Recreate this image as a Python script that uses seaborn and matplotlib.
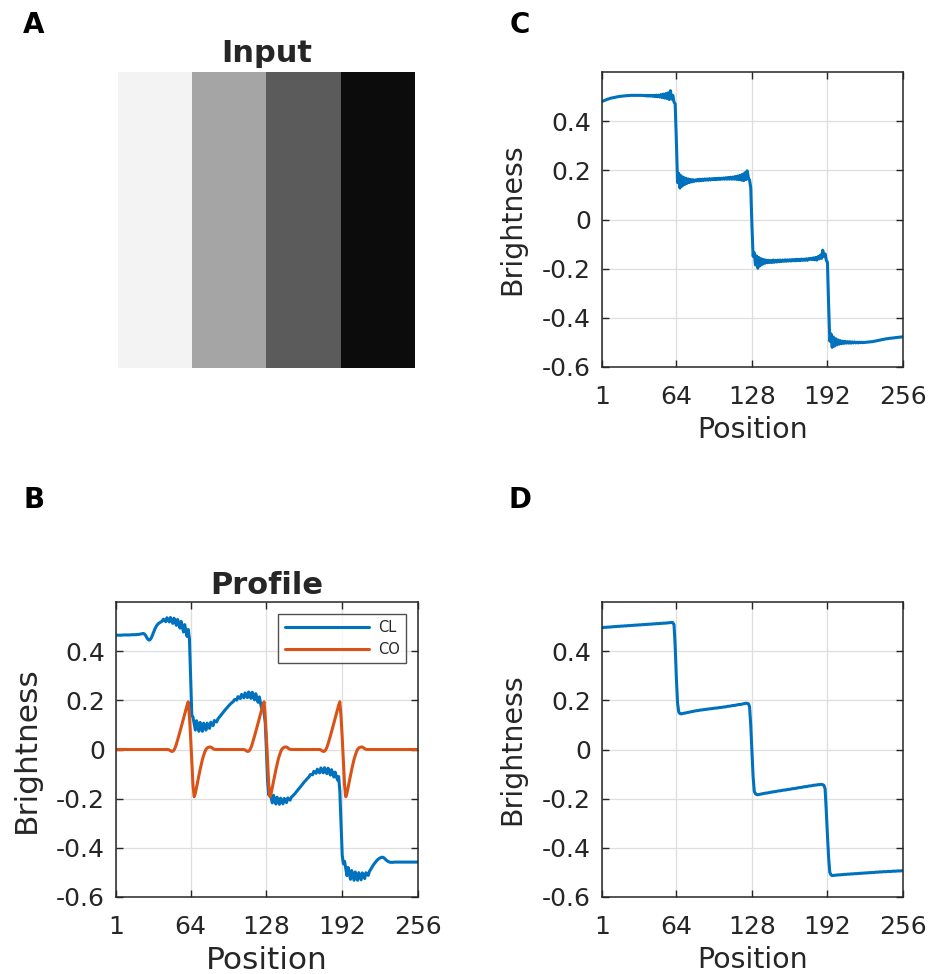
import numpy as np
import pandas as pd
import matplotlib
matplotlib.use("Agg")
import matplotlib.pyplot as plt
import seaborn as sns

# ---------------------------------------------------------------- data
positions = np.arange(1, 257)

# grey levels of the four vertical stripes of the input pattern
input_levels = [0.953, 0.647, 0.357, 0.047]

x_ticks = [1, 64, 128, 192, 256]
y_ticks = [-0.6, -0.4, -0.2, 0.0, 0.2, 0.4]
y_tick_labels = ["-0.6", "-0.4", "-0.2", "0", "0.2", "0.4"]

# Panel B: brightness profile along the row (CL) and the contrast signal (CO)
profile_cl = [
    0.465, 0.465, 0.465, 0.465, 0.465, 0.465, 0.466, 0.466, 0.466, 0.466, 0.466, 0.466, 0.466, 0.467, 0.467, 0.467,
    0.467, 0.467, 0.468, 0.468, 0.469, 0.470, 0.471, 0.472, 0.470, 0.464, 0.455, 0.448, 0.445, 0.448, 0.456, 0.468,
    0.480, 0.492, 0.501, 0.508, 0.513, 0.516, 0.519, 0.522, 0.530, 0.526, 0.520, 0.536, 0.528, 0.519, 0.537, 0.526,
    0.513, 0.534, 0.520, 0.505, 0.529, 0.512, 0.494, 0.521, 0.500, 0.478, 0.508, 0.485, 0.460, 0.488, 0.450, 0.300,
    0.140, 0.132, 0.105, 0.079, 0.117, 0.095, 0.074, 0.110, 0.091, 0.074, 0.107, 0.092, 0.079, 0.107, 0.096, 0.086,
    0.111, 0.103, 0.097, 0.118, 0.114, 0.112, 0.124, 0.130, 0.136, 0.142, 0.148, 0.154, 0.160, 0.166, 0.171, 0.177,
    0.182, 0.187, 0.191, 0.195, 0.203, 0.203, 0.201, 0.215, 0.212, 0.207, 0.224, 0.218, 0.210, 0.230, 0.221, 0.211,
    0.234, 0.222, 0.208, 0.233, 0.218, 0.202, 0.227, 0.210, 0.192, 0.214, 0.190, 0.166, 0.178, 0.150, 0.110, 0.000,
    -0.130, -0.185, -0.175, -0.197, -0.217, -0.186, -0.205, -0.222, -0.194, -0.209, -0.223, -0.198, -0.210, -0.221, -0.199, -0.208,
    -0.216, -0.197, -0.203, -0.206, -0.194, -0.190, -0.185, -0.180, -0.174, -0.168, -0.162, -0.156, -0.150, -0.144, -0.138, -0.132,
    -0.127, -0.121, -0.116, -0.111, -0.102, -0.102, -0.103, -0.089, -0.092, -0.097, -0.080, -0.087, -0.095, -0.075, -0.085, -0.095,
    -0.074, -0.086, -0.098, -0.076, -0.090, -0.104, -0.082, -0.097, -0.112, -0.092, -0.108, -0.124, -0.110, -0.170, -0.300, -0.430,
    -0.465, -0.455, -0.485, -0.513, -0.480, -0.505, -0.528, -0.492, -0.513, -0.532, -0.498, -0.516, -0.532, -0.501, -0.516, -0.530,
    -0.502, -0.514, -0.525, -0.501, -0.508, -0.512, -0.496, -0.488, -0.480, -0.472, -0.465, -0.459, -0.453, -0.448, -0.444, -0.441,
    -0.439, -0.438, -0.440, -0.444, -0.449, -0.453, -0.456, -0.458, -0.459, -0.459, -0.459, -0.458, -0.458, -0.458, -0.458, -0.458,
    -0.458, -0.458, -0.458, -0.458, -0.458, -0.458, -0.458, -0.458, -0.458, -0.458, -0.458, -0.458, -0.458, -0.458, -0.458, -0.457,
]

profile_co = [
    0.000, 0.000, 0.000, 0.000, 0.000, 0.000, 0.000, 0.000, 0.000, 0.000, 0.000, 0.000, 0.000, 0.000, 0.000, 0.000,
    0.000, 0.000, 0.000, 0.000, 0.000, 0.000, 0.000, 0.000, 0.000, 0.000, 0.000, 0.000, 0.000, 0.000, 0.000, 0.000,
    0.000, 0.000, 0.000, 0.000, 0.000, 0.000, 0.000, 0.000, 0.000, 0.000, 0.000, 0.000, 0.000, -0.002, -0.005, -0.008,
    -0.007, -0.002, 0.008, 0.022, 0.038, 0.055, 0.072, 0.090, 0.108, 0.126, 0.144, 0.162, 0.180, 0.194, 0.135, 0.050,
    -0.050, -0.145, -0.192, -0.178, -0.155, -0.130, -0.105, -0.082, -0.060, -0.040, -0.024, -0.010, 0.001, 0.006, 0.009, 0.010,
    0.010, 0.007, 0.003, 0.001, 0.000, 0.000, 0.000, 0.000, 0.000, 0.000, 0.000, 0.000, 0.000, 0.000, 0.000, 0.000,
    0.000, 0.000, 0.000, 0.000, 0.000, 0.000, 0.000, 0.000, 0.000, 0.000, 0.000, 0.000, 0.000, -0.002, -0.005, -0.008,
    -0.007, -0.002, 0.008, 0.022, 0.038, 0.055, 0.072, 0.090, 0.108, 0.126, 0.144, 0.162, 0.180, 0.194, 0.135, 0.050,
    -0.050, -0.145, -0.192, -0.178, -0.155, -0.130, -0.105, -0.082, -0.060, -0.040, -0.024, -0.010, 0.001, 0.006, 0.009, 0.010,
    0.010, 0.007, 0.003, 0.001, 0.000, 0.000, 0.000, 0.000, 0.000, 0.000, 0.000, 0.000, 0.000, 0.000, 0.000, 0.000,
    0.000, 0.000, 0.000, 0.000, 0.000, 0.000, 0.000, 0.000, 0.000, 0.000, 0.000, 0.000, 0.000, -0.002, -0.005, -0.008,
    -0.007, -0.002, 0.008, 0.022, 0.038, 0.055, 0.072, 0.090, 0.108, 0.126, 0.144, 0.162, 0.180, 0.194, 0.135, 0.050,
    -0.050, -0.145, -0.192, -0.178, -0.155, -0.130, -0.105, -0.082, -0.060, -0.040, -0.024, -0.010, 0.001, 0.006, 0.009, 0.010,
    0.010, 0.007, 0.003, 0.001, 0.000, 0.000, 0.000, 0.000, 0.000, 0.000, 0.000, 0.000, 0.000, 0.000, 0.000, 0.000,
    0.000, 0.000, 0.000, 0.000, 0.000, 0.000, 0.000, 0.000, 0.000, 0.000, 0.000, 0.000, 0.000, 0.000, 0.000, 0.000,
    0.000, 0.000, 0.000, 0.000, 0.000, 0.000, 0.000, 0.000, 0.000, 0.000, 0.000, 0.000, 0.000, 0.000, 0.000, 0.000,
]

# Panel C: perceived brightness with ringing at the edges
brightness_c = [
    0.480, 0.482, 0.484, 0.486, 0.488, 0.490, 0.491, 0.493, 0.494, 0.495, 0.496, 0.497, 0.498, 0.499, 0.500, 0.501,
    0.501, 0.502, 0.502, 0.503, 0.503, 0.504, 0.504, 0.504, 0.505, 0.505, 0.505, 0.505, 0.505, 0.505, 0.505, 0.505,
    0.505, 0.505, 0.505, 0.504, 0.505, 0.503, 0.505, 0.502, 0.505, 0.502, 0.505, 0.501, 0.505, 0.500, 0.506, 0.499,
    0.506, 0.498, 0.508, 0.496, 0.510, 0.494, 0.512, 0.492, 0.515, 0.488, 0.524, 0.490, 0.505, 0.478, 0.470, 0.320,
    0.150, 0.188, 0.128, 0.178, 0.136, 0.172, 0.142, 0.168, 0.147, 0.165, 0.150, 0.163, 0.153, 0.162, 0.155, 0.161,
    0.157, 0.163, 0.157, 0.164, 0.158, 0.164, 0.159, 0.165, 0.160, 0.165, 0.160, 0.166, 0.161, 0.166, 0.162, 0.167,
    0.162, 0.167, 0.163, 0.168, 0.163, 0.168, 0.164, 0.169, 0.164, 0.170, 0.164, 0.171, 0.164, 0.172, 0.164, 0.173,
    0.164, 0.175, 0.163, 0.177, 0.162, 0.180, 0.160, 0.184, 0.158, 0.190, 0.162, 0.198, 0.170, 0.160, 0.130, -0.020,
    -0.150, -0.135, -0.185, -0.148, -0.198, -0.155, -0.188, -0.160, -0.182, -0.163, -0.178, -0.165, -0.176, -0.166, -0.175, -0.167,
    -0.175, -0.165, -0.174, -0.166, -0.173, -0.165, -0.172, -0.165, -0.171, -0.165, -0.170, -0.164, -0.170, -0.164, -0.169, -0.164,
    -0.169, -0.163, -0.168, -0.163, -0.168, -0.162, -0.167, -0.162, -0.167, -0.161, -0.166, -0.161, -0.166, -0.160, -0.166, -0.159,
    -0.162, -0.158, -0.163, -0.156, -0.164, -0.154, -0.165, -0.151, -0.160, -0.145, -0.158, -0.125, -0.150, -0.140, -0.165, -0.175,
    -0.350, -0.495, -0.465, -0.520, -0.478, -0.515, -0.485, -0.510, -0.490, -0.507, -0.493, -0.505, -0.495, -0.504, -0.496, -0.503,
    -0.497, -0.503, -0.497, -0.503, -0.498, -0.502, -0.498, -0.502, -0.499, -0.502, -0.499, -0.501, -0.499, -0.501, -0.500, -0.500,
    -0.499, -0.499, -0.498, -0.498, -0.497, -0.497, -0.496, -0.495, -0.494, -0.493, -0.492, -0.491, -0.490, -0.489, -0.488, -0.487,
    -0.486, -0.485, -0.485, -0.484, -0.483, -0.483, -0.482, -0.482, -0.481, -0.480, -0.480, -0.479, -0.479, -0.478, -0.478, -0.477,
]

# Panel D: smooth staircase brightness
brightness_d = [
    0.496, 0.496, 0.497, 0.497, 0.497, 0.498, 0.498, 0.498, 0.499, 0.499, 0.500, 0.500, 0.500, 0.501, 0.501, 0.501,
    0.502, 0.502, 0.502, 0.503, 0.503, 0.503, 0.504, 0.504, 0.504, 0.505, 0.505, 0.505, 0.506, 0.506, 0.506, 0.507,
    0.507, 0.507, 0.508, 0.508, 0.508, 0.509, 0.509, 0.509, 0.510, 0.510, 0.510, 0.511, 0.511, 0.511, 0.512, 0.512,
    0.512, 0.513, 0.513, 0.513, 0.514, 0.514, 0.514, 0.515, 0.515, 0.516, 0.516, 0.517, 0.516, 0.508, 0.420, 0.290,
    0.190, 0.153, 0.146, 0.145, 0.146, 0.147, 0.148, 0.149, 0.150, 0.151, 0.152, 0.153, 0.154, 0.155, 0.156, 0.157,
    0.158, 0.158, 0.159, 0.160, 0.161, 0.161, 0.162, 0.163, 0.163, 0.164, 0.165, 0.165, 0.166, 0.166, 0.167, 0.168,
    0.168, 0.169, 0.169, 0.170, 0.171, 0.171, 0.172, 0.173, 0.173, 0.174, 0.175, 0.176, 0.176, 0.177, 0.178, 0.179,
    0.179, 0.180, 0.181, 0.182, 0.183, 0.183, 0.184, 0.185, 0.186, 0.187, 0.188, 0.188, 0.186, 0.175, 0.100, -0.010,
    -0.110, -0.170, -0.180, -0.183, -0.184, -0.183, -0.182, -0.181, -0.180, -0.179, -0.178, -0.177, -0.177, -0.176, -0.175, -0.174,
    -0.173, -0.172, -0.172, -0.171, -0.170, -0.169, -0.168, -0.168, -0.167, -0.166, -0.165, -0.165, -0.164, -0.163, -0.162, -0.162,
    -0.161, -0.160, -0.159, -0.159, -0.158, -0.157, -0.156, -0.155, -0.155, -0.154, -0.153, -0.152, -0.151, -0.151, -0.150, -0.149,
    -0.148, -0.148, -0.147, -0.146, -0.145, -0.145, -0.144, -0.143, -0.143, -0.142, -0.142, -0.143, -0.146, -0.160, -0.250, -0.350,
    -0.440, -0.500, -0.510, -0.513, -0.512, -0.512, -0.511, -0.511, -0.510, -0.510, -0.510, -0.509, -0.509, -0.508, -0.508, -0.508,
    -0.507, -0.507, -0.507, -0.506, -0.506, -0.506, -0.505, -0.505, -0.505, -0.504, -0.504, -0.504, -0.503, -0.503, -0.503, -0.502,
    -0.502, -0.502, -0.501, -0.501, -0.501, -0.500, -0.500, -0.500, -0.499, -0.499, -0.499, -0.498, -0.498, -0.498, -0.497, -0.497,
    -0.497, -0.497, -0.496, -0.496, -0.496, -0.496, -0.495, -0.495, -0.495, -0.495, -0.494, -0.494, -0.494, -0.494, -0.493, -0.493,
]

# ---------------------------------------------------------------- style
sns.set_theme(style="white")
plt.rcParams["font.family"] = ["DejaVu Sans"]
plt.rcParams["axes.unicode_minus"] = False

BLUE = "#0072BD"
ORANGE = "#D95319"
INK = "#262626"
W, H = 940, 974
LW = 2.2


def box(left, top, right, bottom):
    """Axes rectangle in figure fractions from pixel edges."""
    return [left / W, 1 - bottom / H, (right - left) / W, (bottom - top) / H]


def style_axes(ax, label_size, ylabel_pad):
    ax.set_xlim(1, 256)
    ax.set_ylim(-0.6, 0.6)
    ax.set_xticks(x_ticks)
    ax.set_xticklabels([str(t) for t in x_ticks])
    ax.set_yticks(y_ticks)
    ax.set_yticklabels(y_tick_labels)
    ax.set_axisbelow(True)
    ax.grid(True, color="#dedede", linewidth=0.9)
    ax.tick_params(axis="both", direction="in", length=5, width=1.0,
                   bottom=True, left=True, top=True, right=True,
                   labelsize=18, colors=INK)
    ax.tick_params(axis="x", pad=13)
    ax.tick_params(axis="y", pad=8)
    for s in ax.spines.values():
        s.set_visible(True)
        s.set_color(INK)
        s.set_linewidth(1.1)
    ax.set_xlabel("Position", fontsize=label_size, color=INK, labelpad=5)
    ax.set_ylabel("Brightness", fontsize=label_size, color=INK, labelpad=ylabel_pad)


fig = plt.figure(figsize=(W / 100, H / 100), dpi=100)

# A: input stripes
axA = fig.add_axes(box(118, 72, 415, 368))
sns.heatmap(np.array([input_levels]), cmap="gray", vmin=0, vmax=1, cbar=False,
            xticklabels=False, yticklabels=False, ax=axA)
for s in axA.spines.values():
    s.set_visible(False)
axA.set_title("Input", fontsize=22, fontweight="bold", pad=7)

# B: profile with CL and CO
axB = fig.add_axes(box(116, 602, 418, 897))
sns.lineplot(x=positions, y=profile_cl, ax=axB, color=BLUE, linewidth=LW, label="CL")
sns.lineplot(x=positions, y=profile_co, ax=axB, color=ORANGE, linewidth=LW, label="CO")
style_axes(axB, 22.5, 11)
axB.set_title("Profile", fontsize=22, fontweight="bold", pad=6)
leg = axB.legend(loc="upper right", fontsize=10.5, handlelength=5.8, frameon=True,
                 fancybox=False, edgecolor=INK, borderaxespad=0.8,
                 borderpad=0.45, labelspacing=0.45, handletextpad=0.6)
leg.get_frame().set_linewidth(1.0)
for t in leg.get_texts():
    t.set_color(INK)

# C: brightness with ringing
axC = fig.add_axes(box(602, 72, 903, 367))
sns.lineplot(x=positions, y=brightness_c, ax=axC, color=BLUE, linewidth=LW)
style_axes(axC, 20.5, 11)

# D: smooth brightness
axD = fig.add_axes(box(602, 602, 903, 897))
sns.lineplot(x=positions, y=brightness_d, ax=axD, color=BLUE, linewidth=LW)
style_axes(axD, 20.5, 11)

# panel letters
for letter, (px, py) in {"A": (34, 25), "C": (520, 25), "B": (34, 500), "D": (520, 500)}.items():
    fig.text(px / W, 1 - py / H, letter, fontsize=20, fontweight="bold",
             ha="center", va="center", color="black")

fig.savefig("out.png", dpi=100)
